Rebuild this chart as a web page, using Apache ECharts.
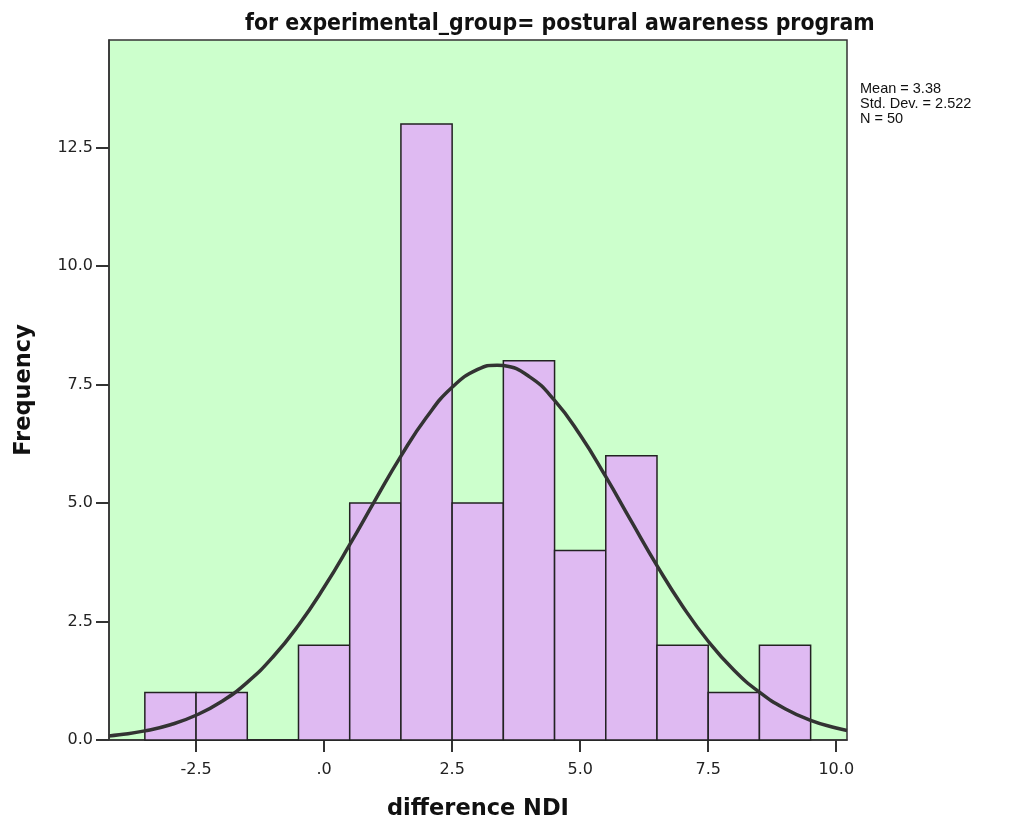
<!DOCTYPE html>
<html>
<head>
<meta charset="utf-8">
<script src="https://cdn.jsdelivr.net/npm/echarts@6/dist/echarts.min.js"></script>
<style>
  html, body { margin: 0; padding: 0; background: #fff; }
  #chart { width: 1019px; height: 825px; }
</style>
</head>
<body>
<div id="chart"></div>
<script>
  // histogram bins (lower edge, width 1) and counts
  var binStarts = [-3.5, -2.5, -1.5, -0.5, 0.5, 1.5, 2.5, 3.5, 4.5, 5.5, 6.5, 7.5, 8.5];
  var binCounts = [1, 1, 0, 2, 5, 13, 5, 8, 4, 6, 2, 1, 2];
  var binWidth = 1;

  // normal curve
  var curveX = [-4.2, -4, -3.5, -3, -2.5, -2, -1.5, -1, -0.5, 0, 0.5, 1, 1.5, 2, 2.5, 3, 3.38, 3.5, 4, 4.5, 5, 5.5, 6, 6.5, 7, 7.5, 8, 8.5, 9, 9.5, 10, 10.21];
  var curveY = [0.086, 0.109, 0.192, 0.322, 0.522, 0.813, 1.217, 1.751, 2.422, 3.222, 4.121, 5.067, 5.99, 6.81, 7.442, 7.82, 7.909, 7.9, 7.673, 7.166, 6.435, 5.555, 4.611, 3.679, 2.824, 2.083, 1.477, 1.008, 0.66, 0.416, 0.252, 0.202];

  var xTicks = [-2.5, 0, 2.5, 5, 7.5, 10];
  var xTickLabels = ['-2.5', '.0', '2.5', '5.0', '7.5', '10.0'];
  var yTicks = [0, 2.5, 5, 7.5, 10, 12.5];
  var yTickLabels = ['0.0', '2.5', '5.0', '7.5', '10.0', '12.5'];

  var statLines = ['Mean = 3.38', 'Std. Dev. = 2.522', 'N = 50'];

  var barData = binStarts.map(function (s, i) { return [s, s + binWidth, binCounts[i]]; });
  var lineData = curveX.map(function (x, i) { return [x, curveY[i]]; });

  var chart = echarts.init(document.getElementById('chart'));
  chart.setOption({
    animation: false,
    title: {
      text: 'for experimental_group= postural awareness program',
      left: 240,
      top: 8,
      textStyle: {
        fontFamily: 'DejaVu Sans Condensed',
        fontWeight: 'bold',
        fontSize: 22.8,
        color: '#111'
      }
    },
    grid: {
      left: 109,
      right: 172,
      top: 40,
      bottom: 85,
      outerBoundsMode: 'none',
      containLabel: false,
      show: true,
      backgroundColor: '#ccffcc',
      borderColor: '#333',
      borderWidth: 1.5
    },
    graphic: [{
      type: 'text',
      left: 860,
      top: 81,
      style: {
        text: statLines.join('\n'),
        font: '14.5px "Liberation Sans"',
        lineHeight: 15,
        fill: '#111'
      }
    }],
    xAxis: {
      type: 'value',
      min: -4.2,
      max: 10.21,
      name: 'difference NDI',
      nameLocation: 'middle',
      nameGap: 58,
      nameTextStyle: { fontFamily: 'DejaVu Sans', fontWeight: 'bold', fontSize: 22.5, color: '#111' },
      axisLine: { show: true, onZero: false, lineStyle: { color: '#333', width: 1.5 } },
      axisTick: { show: true, length: 12, customValues: xTicks, lineStyle: { color: '#333', width: 2 } },
      axisLabel: {
        customValues: xTicks,
        margin: 22,
        fontFamily: 'DejaVu Sans',
        fontSize: 16,
        color: '#222',
        formatter: function (v) { return xTickLabels[xTicks.indexOf(v)]; }
      },
      splitLine: { show: false }
    },
    yAxis: {
      type: 'value',
      min: 0,
      max: 14.77,
      name: 'Frequency',
      nameLocation: 'middle',
      nameGap: 73,
      nameTextStyle: { fontFamily: 'DejaVu Sans', fontWeight: 'bold', fontSize: 22.5, color: '#111' },
      axisLine: { show: true, onZero: false, lineStyle: { color: '#333', width: 1.5 } },
      axisTick: { show: true, length: 13, customValues: yTicks, lineStyle: { color: '#333', width: 2 } },
      axisLabel: {
        customValues: yTicks,
        margin: 16,
        fontFamily: 'DejaVu Sans',
        fontSize: 16,
        color: '#222',
        formatter: function (v) { return yTickLabels[yTicks.indexOf(v)]; }
      },
      splitLine: { show: false }
    },
    series: [{
      type: 'custom',
      data: barData,
      encode: { x: [0, 1], y: 2 },
      renderItem: function (params, api) {
        var p0 = api.coord([api.value(0), api.value(2)]);
        var p1 = api.coord([api.value(1), 0]);
        return {
          type: 'rect',
          shape: { x: p0[0], y: p0[1], width: p1[0] - p0[0], height: p1[1] - p0[1] },
          style: { fill: '#dfbaf2', stroke: '#222', lineWidth: 1.5 }
        };
      }
    }, {
      type: 'line',
      data: lineData,
      smooth: true,
      symbol: 'none',
      lineStyle: { color: '#333', width: 3.5 },
      z: 5
    }]
  });
</script>
</body>
</html>
